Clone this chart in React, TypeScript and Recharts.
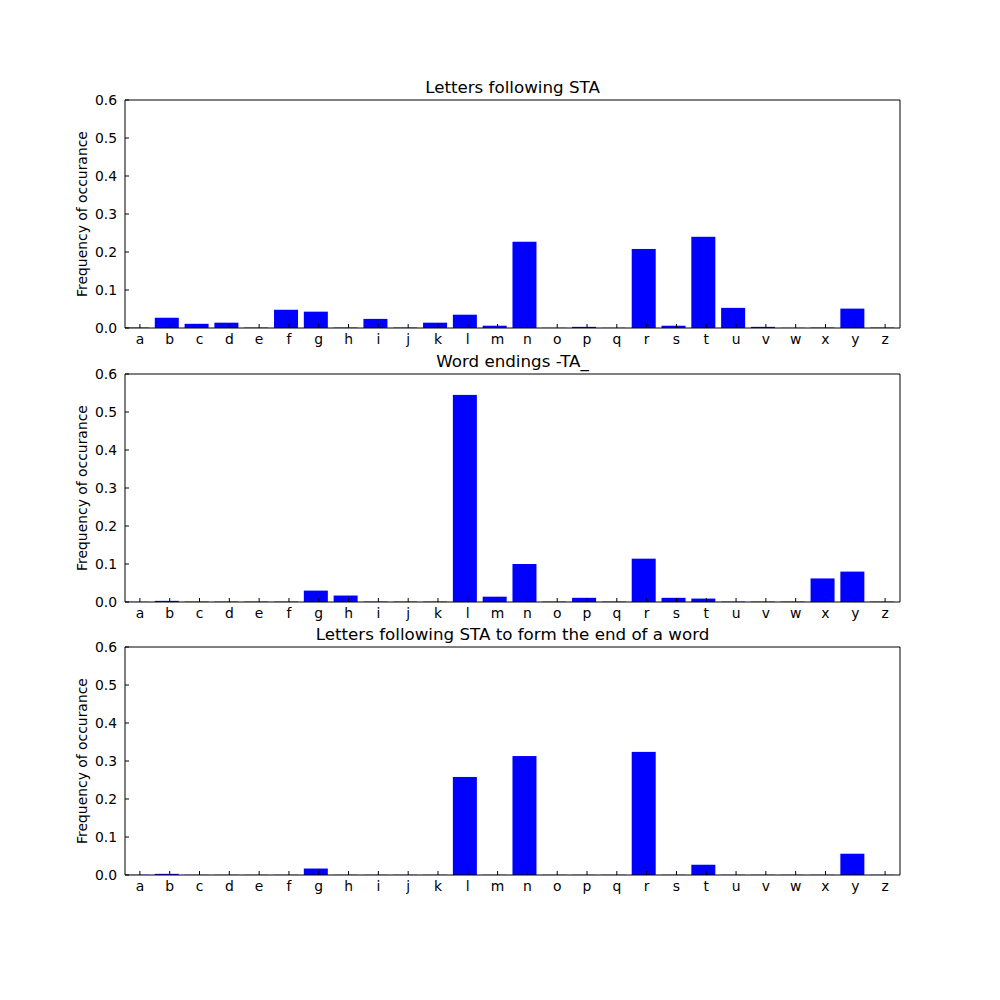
import React from "react";
import { BarChart, Bar, XAxis, YAxis } from "recharts";

const letters = "abcdefghijklmnopqrstuvwxyz".split("");

const staFollow = [
  0.001, 0.027, 0.011, 0.014, 0.001, 0.048, 0.043, 0.001, 0.024, 0.001, 0.014, 0.035, 0.006,
  0.227, 0.0005, 0.003, 0.0005, 0.208, 0.006, 0.24, 0.053, 0.003, 0.0005, 0.001, 0.051, 0.001,
];
const taEndings = [
  0.0005, 0.003, 0.001, 0.001, 0.001, 0.001, 0.03, 0.017, 0.001, 0.001, 0.001, 0.545, 0.014,
  0.1, 0.001, 0.011, 0.001, 0.114, 0.011, 0.009, 0.001, 0.001, 0.001, 0.062, 0.08, 0.001,
];
const staWordEnd = [
  0.0005, 0.003, 0.0005, 0.0005, 0.0005, 0.0005, 0.017, 0.0005, 0.0005, 0.0005, 0.0005, 0.258,
  0.0005, 0.313, 0.0005, 0.0005, 0.0005, 0.324, 0.0005, 0.027, 0.0005, 0.0005, 0.0005, 0.0005,
  0.056, 0.0005,
];

const titles = [
  "Letters following STA",
  "Word endings -TA_",
  "Letters following STA to form the end of a word",
];
const yLabel = "Frequency of occurance";
const yTicks = [0, 0.1, 0.2, 0.3, 0.4, 0.5, 0.6];

const series = [staFollow, taEndings, staWordEnd];
const plotTops = [100, 374, 647];
const PLOT_H = 228;
const TOP_M = 40;

const FONT = "'DejaVu Sans', sans-serif";
const TICK_FS = 13.9;

// matplotlib-style edge-aligned bar: occupies the left 80% of each slot
const EdgeBar = (p: any) => {
  const { x, y, width, height } = p;
  if (!height || height <= 0) return <g />;
  return <rect x={x - width / 8} y={y} width={width} height={height} fill="#0000ff" />;
};

function Panel({ values, top, title }: { values: number[]; top: number; title: string }) {
  const data = letters.map((l, i) => ({ letter: l, value: values[i] }));
  return (
    <>
      <div
        style={{
          position: "absolute",
          left: 0,
          top: top - TOP_M,
          width: 1000,
          height: TOP_M + PLOT_H + 40,
        }}
      >
        <BarChart
          width={1000}
          height={TOP_M + PLOT_H + 40}
          data={data}
          margin={{ top: TOP_M - 1, right: 99, left: 65, bottom: 10 }}
          barCategoryGap="10%"
        >
          <XAxis
            dataKey="letter"
            type="category"
            interval={0}
            height={30}
            axisLine={{ stroke: "#000", strokeWidth: 1 }}
            tickLine={{ stroke: "#000" }}
            tickSize={-4}
            tickMargin={10}
            tick={{ fill: "#000", fontSize: TICK_FS, fontFamily: FONT }}
          />
          <XAxis
            xAxisId="top"
            dataKey="letter"
            type="category"
            orientation="top"
            interval={0}
            height={1}
            axisLine={{ stroke: "#000", strokeWidth: 1 }}
            tickLine={{ stroke: "#000" }}
            tickSize={-4}
            tick={false}
          />
          <YAxis
            type="number"
            domain={[0, 0.6]}
            ticks={yTicks}
            interval={0}
            allowDataOverflow
            width={60}
            axisLine={{ stroke: "#000", strokeWidth: 1 }}
            tickLine={{ stroke: "#000" }}
            tickSize={-4}
            tickMargin={12}
            tickFormatter={(v: number) => v.toFixed(1)}
            tick={{ fill: "#000", fontSize: TICK_FS, fontFamily: FONT }}
          />
          <YAxis
            yAxisId="right"
            orientation="right"
            type="number"
            domain={[0, 0.6]}
            ticks={yTicks}
            interval={0}
            width={1}
            axisLine={{ stroke: "#000", strokeWidth: 1 }}
            tickLine={{ stroke: "#000" }}
            tickSize={-4}
            tick={false}
          />
          <Bar dataKey="value" fill="#0000ff" shape={EdgeBar} isAnimationActive={false} />
        </BarChart>
      </div>
      <div
        style={{
          position: "absolute",
          left: 125,
          width: 775,
          top: top - 23,
          height: 20,
          lineHeight: "20px",
          textAlign: "center",
          fontSize: 16.7,
          fontFamily: FONT,
          color: "#000",
        }}
      >
        {title}
      </div>
      <div
        style={{
          position: "absolute",
          left: 82 - 150,
          width: 300,
          top: top + PLOT_H / 2 - 10,
          height: 20,
          lineHeight: "20px",
          textAlign: "center",
          fontSize: TICK_FS,
          fontFamily: FONT,
          color: "#000",
          transform: "rotate(-90deg)",
        }}
      >
        {yLabel}
      </div>
    </>
  );
}

export default function App() {
  return (
    <div
      style={{
        position: "absolute",
        left: 0,
        top: 0,
        width: 1000,
        height: 1000,
        background: "#fff",
        fontFamily: FONT,
      }}
    >
      {series.map((vals, i) => (
        <Panel key={i} values={vals} top={plotTops[i]} title={titles[i]} />
      ))}
    </div>
  );
}
